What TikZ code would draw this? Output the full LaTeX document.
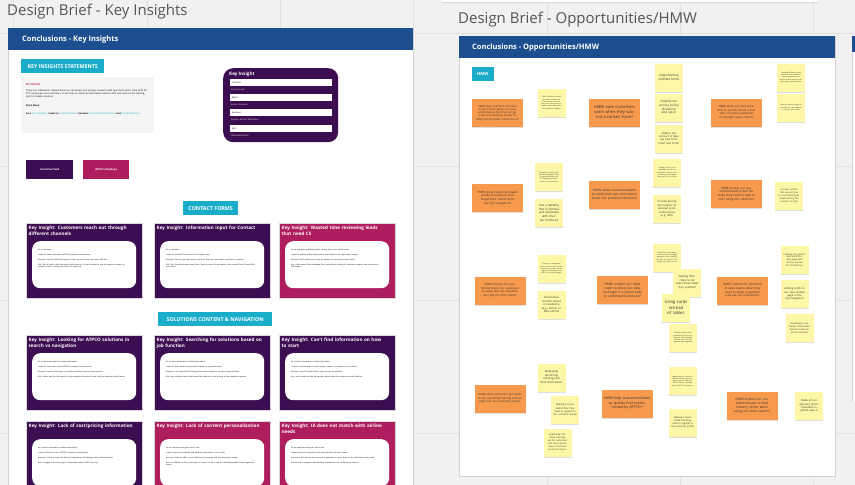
\documentclass[tikz,border=0pt]{standalone}
\usepackage{fontspec}
\setmainfont{Open Sans}
\usetikzlibrary{shadows}
\definecolor{bg}{HTML}{F1F1F1}
\definecolor{gridc}{HTML}{E1E1E1}
\definecolor{hdr}{HTML}{1D4E8F}
\definecolor{tealc}{HTML}{19ADC9}
\definecolor{kpurple}{HTML}{3C0D50}
\definecolor{kmag}{HTML}{AE1D5D}
\definecolor{ornote}{HTML}{F79A4D}
\definecolor{ylnote}{HTML}{FFF7A8}
\definecolor{titlec}{HTML}{555555}
\definecolor{notetxt}{HTML}{333333}
\newcommand\fsz[1]{\fontsize{#1}{\fpeval{#1*1.25}}\selectfont}
\newcommand\kicard[6]{%
  \node[kcard, fill=#4, anchor=north west] (#1) at (#2,#3) {};
  \node[ktitle, anchor=north west] (#1t) at ([xshift=2.5pt,yshift=-3pt]#1.north west) {#5};
  \node[kinner, anchor=north west] (#1i) at ([xshift=6pt,yshift=-18pt]#1.north west) {};
  \node[kbody, anchor=north west] (#1b) at ([xshift=6pt,yshift=-8pt]#1i.north west) {#6};
}
\tikzset{
  shd/.style={drop shadow={shadow xshift=0.3pt, shadow yshift=-1.4pt, opacity=0.26}},
  ynote/.style={shd, fill=ylnote, minimum width=28pt, minimum height=28pt, text width=24pt, align=center, inner sep=1pt, text=notetxt},
  onote/.style={shd, fill=ornote, minimum width=51pt, minimum height=28pt, text width=47pt, align=center, inner sep=1pt, text=notetxt},
  kcard/.style={minimum width=116pt, minimum height=75pt, inner sep=0pt, draw=black!15, line width=0.3pt},
  kinner/.style={fill=white, rounded corners=8pt, minimum width=104pt, minimum height=47pt, inner sep=0pt},
  ktitle/.style={text=white, font=\bfseries\fsz{4.6}, text width=112pt, align=left, inner sep=0pt},
  kbody/.style={text width=90pt, align=left, font=\fsz{1.9}, inner sep=0pt, text=black},
  tealbox/.style={fill=tealc, text=white, font=\bfseries\fsz{5.3}, inner sep=0pt, minimum height=14pt},
  hdrtext/.style={text=white, font=\bfseries\fsz{7.5}, anchor=west, inner sep=0pt},
  bigtitle/.style={text=titlec, font=\fsz{15}, anchor=west, inner sep=0pt},
  field/.style={fill=white, minimum width=102pt, minimum height=7pt, inner sep=0pt},
  fieldlab/.style={font=\fsz{2.2}, anchor=west, inner sep=0pt},
}
\begin{document}
\begin{tikzpicture}[x=1pt,y=-1pt]
\useasboundingbox (0,0) rectangle (855,485);
\clip (0,0) rectangle (855,485);
\fill[bg] (0,0) rectangle (855,485);
\foreach \gx in {13,147,280,413,547,680,813} \draw[gridc, line width=0.6pt] (\gx,0) -- (\gx,485);
\foreach \gy in {33,166,300,433} \draw[gridc, line width=0.6pt] (0,\gy) -- (855,\gy);
% top strip and right board
\fill[white] (442,-3) rectangle (818,2.5);
\draw[black!15] (442,2.5) -- (818,2.5);
\fill[white] (852,36) rectangle (862,402);
\draw[black!15] (852,402) -- (852,36);
\fill[hdr] (852,36) rectangle (862,52);
% titles
\node[bigtitle] (t1) at (7,12) {Design Brief - Key Insights};
\node[bigtitle] (t2) at (458,20) {Design Brief - Opportunities/HMW};
% ===== left board =====
\fill[white] (8,28) rectangle (413,495);
\draw[black!18, line width=0.5pt] (8,495) -- (8,28) -- (413,28) -- (413,495);
\fill[hdr] (8,28) rectangle (413,50);
\node[hdrtext] (h1) at (22,39.5) {Conclusions - Key Insights};
\node[tealbox, minimum width=83pt, anchor=north west] (kis) at (21,59) {KEY INSIGHTS STATEMENTS};
\fill[black!4] (21,77) rectangle (154,133);
\node[anchor=north west, text width=124pt, align=left, inner sep=0pt, font=\fsz{2.35}] (gtxt) at (26,83.5)
 {\textcolor{kmag}{\bfseries MY INSIGHT}\\[3.6pt]
  These are statements created based on secondary and primary research with Apinconal users, from both ATPCO employees and customers. It will help us create an actionable sentence that will serve as the starting point to ideate solutions.\\[5.5pt]
  \textbf{Start Story:}\\[5.5pt]
  \textbf{As a} \textcolor{tealc}{Persona/Role}, \textbf{I want to} \textcolor{tealc}{Action/Situation}, \textbf{because} \textcolor{tealc}{Reason/Goal/Motivation}, \textbf{but} \textcolor{tealc}{Obstacle/Friction}};
% key insight template card
\node[fill=kpurple, rounded corners=10pt, minimum width=115pt, minimum height=74pt, inner sep=0pt, anchor=north west] (kic) at (223,68) {};
\node[text=white, font=\bfseries\fsz{4.6}, anchor=west, inner sep=0pt] (kict) at (229,74) {Key Insight};
\node[field, anchor=north west] (f1) at (230,79) {};
\node[field, anchor=north west] (f2) at (230,94) {};
\node[field, anchor=north west] (f3) at (230,109) {};
\node[field, anchor=north west] (f4) at (230,125) {};
\node[fieldlab, text=black] (f1l) at ([xshift=2pt]f1.west) {Persona:};
\node[fieldlab, text=black] (f2l) at ([xshift=2pt]f2.west) {Want:};
\node[fieldlab, text=black] (f3l) at ([xshift=2pt]f3.west) {Because:};
\node[fieldlab, text=black] (f4l) at ([xshift=2pt]f4.west) {But:};
\node[fieldlab, text=white] (f1s) at (231,89.5) {Persona\_role};
\node[fieldlab, text=white] (f2s) at (231,104.5) {Action, Situation};
\node[fieldlab, text=white] (f3s) at (231,120) {Reason, Goal or Motivation};
\node[fieldlab, text=white] (f4s) at (231,136) {Obstacle/Friction};
% legend
\node[fill=kpurple, text=white, font=\bfseries\fsz{2.6}, minimum width=47pt, minimum height=19pt, inner sep=0pt, anchor=north west] (lg1) at (26,160) {Customer/lead};
\node[fill=kmag, text=white, font=\bfseries\fsz{2.6}, minimum width=46pt, minimum height=19pt, inner sep=0pt, anchor=north west] (lg2) at (83,160) {ATPCO employee};
% contact forms
\node[tealbox, minimum width=55pt, anchor=north west] (cf) at (183,201) {CONTACT FORMS};
\kicard{c1}{26}{223}{kpurple}{Key Insight: Customers reach out through\\different channels}
 {As a customer,\\[2.6pt] I want to learn more about ATPCO products and solutions,\\[2.6pt] because I need to find best ways to make my work faster and more efficient\\[2.6pt] but I find it hard to find the right contact person, it's much easier to use my regional contacts or submit a ticket or filling out a form to reach out.}
\kicard{c2}{154}{223}{kpurple}{Key Insight: Information input for Contact}
 {As a customer,\\[2.6pt] I want to quickly fill out forms on the public site,\\[2.6pt] because I need to get help with an issue or find out more about a product or solution\\[2.6pt] but I feel frustrated when every time I have to enter all my details in the contact form I have filled out before.}
\kicard{c3}{279}{223}{kmag}{Key Insight: Wasted time reviewing leads\\that need CS}
 {As an employee qualifying leads coming from our contact forms,\\[2.6pt] I want to quickly qualify leads and forward them to the right sales contact,\\[2.6pt] because it will allow leads to get an answer on time and convert faster,\\[2.6pt] but I often spend time reviewing form submissions asking for customer support and not sales related topics.}
% solutions content
\node[tealbox, minimum width=114pt, anchor=north west] (scn) at (158,312) {SOLUTIONS CONTENT \& NAVIGATION};
\kicard{c4}{26}{335}{kpurple}{Key Insight: Looking for ATPCO solutions in\\search vs navigation}
 {As a visitor interested in solutions/products,\\[2.6pt] I want to learn more about ATPCO's products and solutions,\\[2.6pt] because I need to find ways to simplify workflows and increase revenue,\\[2.6pt] but I rather use the site search vs the navigation because I know I will get relevant results faster.}
\kicard{c5}{154}{335}{kpurple}{Key Insight: Searching for solutions based on\\job function}
 {As a visitor interested in solutions/products,\\[2.6pt] I want to find content and products based on my job function,\\[2.6pt] because I am interested in finding information related to my job's responsibilities,\\[2.6pt] but I am confused about what would be relevant to me looking at the navigation options.}
\kicard{c6}{279}{335}{kpurple}{Key Insight: Can't find information on how\\to start}
 {As a visitor interested in solutions/products,\\[2.6pt] I want to see the steps to start using a solution or product of my interest,\\[2.6pt] because I need to know how to start as soon as possible,\\[2.6pt] but I am not able to find information about what the solutions and its benefits.}
\kicard{c7}{26}{421}{kpurple}{Key Insight: Lack of cost/pricing information}
 {As a visitor interested in solutions/products,\\[2.6pt] I want to find the cost of ATPCO solutions and products,\\[2.6pt] because I need to know the financial implications of buying a new solution/product,\\[2.6pt] but I struggle to find any type of information about ATPCO pricing.}
\kicard{c8}{154}{421}{kmag}{Key Insight: Lack of content personalization}
 {As an employee using the site to sell,\\[2.6pt] I want to give personalized and detailed information to our leads,\\[2.6pt] because I want to offer content that would resonate with the customer's needs,\\[2.6pt] but it is difficult to direct customers to search on their own for solutions/products that target their needs.}
\kicard{c9}{279}{421}{kmag}{Key Insight: IA does not match with airline\\needs}
 {As an employee using the site to sell,\\[2.6pt] I want airlines to easily find data and solutions for their needs,\\[2.6pt] because it will save us time since less questions to direct them to the information they need,\\[2.6pt] but the site's navigation and wording conventions are confusing for visitors.}
% ===== right board =====
\fill[white] (459,36) rectangle (835,476);
\draw[black!18, line width=0.5pt] (459,36) rectangle (835,476);
\fill[hdr] (459,36) rectangle (835,58);
\node[hdrtext] (h2) at (472,47.5) {Conclusions - Opportunities/HMW};
\node[tealbox, minimum width=22pt, anchor=north west, font=\bfseries\fsz{4.2}] (hmw) at (471.5,67) {HMW};
% orange notes
\node[onote, font=\fsz{2.6}] (o1) at (497.5,113) {HMW help customers that want to learn more about our products/solutions feel they can get a fast and satisfying answer by filling out our public contact form?};
\node[onote, font=\fsz{4}] (o2) at (614.5,112.5) {HMW ease customers work when they submit a contact form?};
\node[onote, font=\fsz{3}] (o3) at (497.5,198) {HMW show customers/leads products/solutions that target their needs from our top navigation?};
\node[onote, font=\fsz{3.2}] (o4) at (614.5,194.5) {HMW allow customers/leads to easily find cost information about our products/solutions?};
\node[onote, font=\fsz{2.8}] (o5) at (500,290.5) {HMW present our solutions/products for customers to easily find the ones that are right for their needs?};
\node[onote, font=\fsz{3.3}] (o6) at (622.5,290) {HMW: enable our sales team to show our data coverage in a layout easy to understand and use?};
\node[onote, font=\fsz{2.8}] (o7) at (500,398.5) {HMW allow customers and leads to see upcoming training without login into our customer portal?};
\node[onote, font=\fsz{3.6}] (o8) at (627,403.5) {HMW help customers/leads to quickly find events hosted by ATPCO?};
\node[onote, font=\fsz{2.8}] (o9) at (736.5,112.5) {HMW show our lead qualifiers to quickly funnel a lead with conversion potential to the right sales contact?};
\node[onote, font=\fsz{3}] (o10) at (736.5,194) {HMW enable our customers/leads to see the steps they need to take to start using our solutions?};
\node[onote, font=\fsz{3}] (o11) at (742.5,290.5) {HMW: reduce the workload of sales teams when they need to show customers how we can help them?};
\node[onote, font=\fsz{3.3}] (o12) at (752,405.5) {HMW enable our customers/leads to find industry terms while using our site's search?};
% yellow notes
\node[ynote, font=\fsz{1.8}] (y1) at (551.5,103) {Offer different contact us with according to their needs, so a contact form can route our leads to the right place for customer support};
\node[ynote, font=\fsz{1.8}] (y2) at (549,177) {Creating a clearly categorized navigation that is organized based on the familiar job functions of our audience};
\node[ynote, font=\fsz{3}] (y3) at (549,213) {Use a labeling that is familiar and resonates with their job functions};
\node[ynote, font=\fsz{1.8}] (y4) at (551.5,269) {Create our navigation with content that it allows customers to take advantage of information that will fit in one-click page};
\node[ynote, font=\fsz{2.8}] (y5) at (551.5,305) {Personalize content based on audience (e.g., Airline or Non-airline)};
\node[ynote, font=\fsz{2.8}] (y6) at (551.5,377.5) {Displaying upcoming training and their description};
\node[ynote, font=\fsz{2.5}] (y7) at (565,410) {Making it more visible that they need to register in the customer portal};
\node[ynote, font=\fsz{2.3}] (y8) at (557.5,442.5) {Explaining that these trainings are for customers and they need to have a customer account to log in.};
\node[ynote, font=\fsz{3}] (y9) at (669,77.5) {Implementing prefilled forms};
\node[ynote, font=\fsz{3}] (y10) at (669,107.5) {Simplify our privacy policy disclaimer and opt-in};
\node[ynote, font=\fsz{2.7}] (y11) at (669,138.5) {Reduce the amount of data we take from input (our form)};
\node[ynote, font=\fsz{1.8}] (y12) at (667,172.5) {Adding a text in our lead page for all our customers, and for non-customers, encourage them to fill out a form};
\node[ynote, font=\fsz{2.7}] (y13) at (667,209) {Provide pricing information for selected products/services (e.g. RFU)};
\node[ynote, font=\fsz{1.8}] (y14) at (667,257.5) {Have filters run down the left side of the page giving the user visibility and lots of control of the things they want to see};
\node[ynote, font=\fsz{2.8}] (y15) at (687,282.5) {Adding filter chips to let users know what they selected};
\node[ynote, font=\fsz{4.2}] (y16) at (676,307.5) {Using cards instead of tables};
\node[ynote, font=\fsz{1.8}] (y17) at (683,338) {Update content categorization to be in categories of knowledge content and then categorize subcategories};
\node[ynote, font=\fsz{1.8}] (y18) at (682.5,381) {Separating the results in different areas depending on search field (e.g. ATPCO Terms, industry words, ATPCO solutions)};
\node[ynote, font=\fsz{2.4}] (y19) at (682.5,422.5) {Making it more visible that they need to register in the customer portal};
\node[ynote, font=\fsz{1.8}] (y20) at (791,77.5) {Creating different sales forms for our different solutions/products to quickly funnel them to the right sales representative};
\node[ynote, font=\fsz{1.8}] (y21) at (791,107.5) {Having a specific page for customers to get support or contact our offices};
\node[ynote, font=\fsz{2.3}] (y22) at (789,196) {Include content that explain how to start working w/ implementing the solution or help};
\node[ynote, font=\fsz{2.3}] (y23) at (794.5,260) {Creating one searchable and filterable page with all case studies for all solutions};
\node[ynote, font=\fsz{2.7}] (y24) at (794.5,294) {Adding a link to our case studies page in the top navigation};
\node[ynote, font=\fsz{2.3}] (y25) at (799.5,328) {Developing case studies that explain features helps for all our solutions};
\node[ynote, font=\fsz{2.7}] (y26) at (809,406) {Make all our glossary terms indexable in global search};
\end{tikzpicture}
\end{document}
